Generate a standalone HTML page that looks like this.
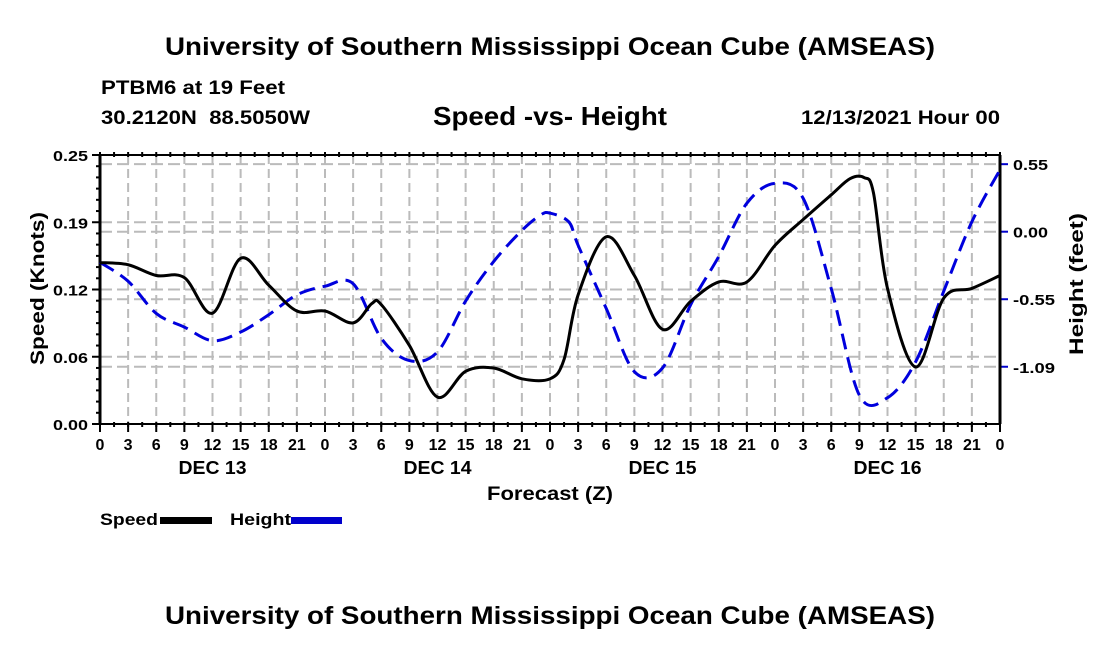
<!DOCTYPE html>
<html><head><meta charset="utf-8"><style>
body{margin:0;background:#fff;}
svg text{font-family:"Liberation Sans",Arial,sans-serif;font-weight:bold;fill:#000;}
</style></head><body>
<svg id="chart" width="1100" height="650" xmlns="http://www.w3.org/2000/svg">
<text x="165" y="55" font-size="25" textLength="770" lengthAdjust="spacingAndGlyphs">University of Southern Mississippi Ocean Cube (AMSEAS)</text>
<text x="101" y="94" font-size="19" textLength="184" lengthAdjust="spacingAndGlyphs">PTBM6 at 19 Feet</text>
<text x="101" y="124" font-size="19" textLength="209" lengthAdjust="spacingAndGlyphs" xml:space="preserve">30.2120N  88.5050W</text>
<text x="433" y="125" font-size="26" textLength="234" lengthAdjust="spacingAndGlyphs">Speed -vs- Height</text>
<text x="801" y="124" font-size="19" textLength="199" lengthAdjust="spacingAndGlyphs">12/13/2021 Hour 00</text>
<g id="grid"></g>
<g id="axes"></g>
<g id="series"></g>
<text transform="translate(44,365) rotate(-90)" font-size="19" textLength="153" lengthAdjust="spacingAndGlyphs">Speed (Knots)</text>
<text transform="translate(1083,355) rotate(-90)" font-size="19" textLength="142" lengthAdjust="spacingAndGlyphs">Height (feet)</text>
<text x="487" y="500" font-size="19" textLength="126" lengthAdjust="spacingAndGlyphs">Forecast (Z)</text>
<g>
<text x="100" y="525" font-size="17" textLength="58" lengthAdjust="spacingAndGlyphs">Speed</text>
<rect x="160" y="517" width="52" height="7" fill="#000"/>
<text x="230" y="525" font-size="17" textLength="61" lengthAdjust="spacingAndGlyphs">Height</text>
<rect x="291" y="517" width="51" height="7" fill="#0000cc"/>
</g>
<text x="165" y="624" font-size="25" textLength="770" lengthAdjust="spacingAndGlyphs">University of Southern Mississippi Ocean Cube (AMSEAS)</text>
</svg>
<script>
const speedHours=[0,3,6,9,12,15,18,21,24,27,29,30,33,36,39,42,45,48,49.5,51,54,57,60,63,66,69,72,75,78,80,81.5,82.5,84,87,90,93,96];
const speedValues=[0.150,0.148,0.138,0.136,0.103,0.154,0.129,0.105,0.105,0.094,0.112,0.111,0.073,0.025,0.049,0.052,0.042,0.042,0.060,0.120,0.174,0.138,0.088,0.114,0.132,0.132,0.166,0.190,0.213,0.228,0.229,0.215,0.126,0.053,0.117,0.126,0.138];
const heightHours=[0,3,6,9,12,15,18,21,24,27,30,33,36,39,42,45,47,48,50,51,54,57,60,63,66,69,72,75,78,81,84,87,90,93,96];
const heightValues=[-0.247,-0.40,-0.66,-0.77,-0.88,-0.81,-0.67,-0.51,-0.44,-0.42,-0.86,-1.04,-0.97,-0.56,-0.24,0.01,0.135,0.15,0.08,-0.11,-0.62,-1.13,-1.10,-0.59,-0.20,0.23,0.39,0.27,-0.46,-1.32,-1.34,-1.05,-0.48,0.08,0.50];
const xTickLabels=["0","3","6","9","12","15","18","21","0","3","6","9","12","15","18","21","0","3","6","9","12","15","18","21","0","3","6","9","12","15","18","21","0"];
const dayLabels=["DEC 13","DEC 14","DEC 15","DEC 16"];
const leftTickLabels=["0.00","0.06","0.12","0.19","0.25"];
const rightTickLabels=["-1.09","-0.55","0.00","0.55"];
const rightTickValues=[-1.09,-0.545,0,0.545];

const NS="http://www.w3.org/2000/svg";
const L=100,R=1000,T=155,B=424;
const xs=h=>L+(R-L)*h/96;
const yL=v=>B-(B-T)*v/0.25;
const yR=v=>231.7-v*123.9;
function mk(tag,attrs,parent){const e=document.createElementNS(NS,tag);for(const k in attrs)e.setAttribute(k,attrs[k]);parent.appendChild(e);return e;}
function tlen(s){let w=0;for(const c of s){w+= c=='.'?5:(c=='-'?7:10);}return w;}
const grid=document.getElementById('grid'),axes=document.getElementById('axes'),series=document.getElementById('series');
for(let i=1;i<32;i++){const l=mk('line',{x1:xs(i*3),x2:xs(i*3),y1:T,y2:B,stroke:'#bbb','stroke-width':2,'stroke-dasharray':'9,5'},grid);

}
for(let i=1;i<4;i++){const y=yL(0.25*i/4);const l=mk('line',{x1:L,x2:R,y1:y,y2:y,stroke:'#bbb','stroke-width':2,'stroke-dasharray':'12,5'},grid);

}
rightTickValues.forEach((v,i)=>{const y=yR(v);const l=mk('line',{x1:L,x2:R,y1:y,y2:y,stroke:'#bbb','stroke-width':2,'stroke-dasharray':'12,5'},grid);


const t=mk('line',{x1:R,x2:R+8,y1:y,y2:y,stroke:'#0000cc','stroke-width':2},axes);


const s=rightTickLabels[i];
const tx=mk('text',{x:1013,y:y+6,'font-size':15,textLength:tlen(s),lengthAdjust:'spacingAndGlyphs'},axes);tx.textContent=s;

});
const fr=mk('rect',{x:L,y:T,width:R-L,height:B-T,fill:'none',stroke:'#000','stroke-width':2},axes);


mk('line',{x1:L,x2:L,y1:T,y2:B,stroke:'#000','stroke-width':3},axes);
mk('line',{x1:R,x2:R,y1:T,y2:B,stroke:'#000','stroke-width':3},axes);
for(let h=0;h<=96;h+=1.5){mk('line',{x1:xs(h),x2:xs(h),y1:T-3,y2:T+2,stroke:'#000','stroke-width':2},axes);mk('line',{x1:xs(h),x2:xs(h),y1:B-2,y2:B+3,stroke:'#000','stroke-width':2},axes);}
xTickLabels.forEach((s,i)=>{const x=xs(i*3);mk('line',{x1:x,x2:x,y1:B,y2:B+8,stroke:'#000','stroke-width':2},axes);
const t=mk('text',{x:x,y:450,'font-size':16,'text-anchor':'middle'},axes);t.textContent=s;

});
dayLabels.forEach((s,i)=>{const t=mk('text',{x:xs(12+24*i)-34,y:474,'font-size':18,textLength:68,lengthAdjust:'spacingAndGlyphs'},axes);t.textContent=s;

});
for(let i=0;i<=24;i++){const y=yL(0.25*i/24);const len=i%6==0?8:4;mk('line',{x1:L-len,x2:L,y1:y,y2:y,stroke:'#000','stroke-width':2},axes);}
leftTickLabels.forEach((s,i)=>{const w=tlen(s);const t=mk('text',{x:88-w,y:yL(0.25*i/4)+6,'font-size':15,textLength:w,lengthAdjust:'spacingAndGlyphs'},axes);t.textContent=s;

});
function path(hs,vs,yf){const p=hs.map((h,i)=>[xs(h),yf(vs[i])]);let d='M'+p[0][0]+','+p[0][1];
for(let i=0;i<p.length-1;i++){const p0=p[Math.max(0,i-1)],p1=p[i],p2=p[i+1],p3=p[Math.min(p.length-1,i+2)];
const c1=[p1[0]+(p2[0]-p0[0])/6,p1[1]+(p2[1]-p0[1])/6],c2=[p2[0]-(p3[0]-p1[0])/6,p2[1]-(p3[1]-p1[1])/6];
d+=' C'+c1+' '+c2+' '+p2;}return d;}
const hp=mk('path',{d:path(heightHours,heightValues,yR),fill:'none',stroke:'#0000dd','stroke-width':3,'stroke-dasharray':'16,8'},series);


const sp=mk('path',{d:path(speedHours,speedValues,yL),fill:'none',stroke:'#000','stroke-width':3},series);


</script>
</body></html>
